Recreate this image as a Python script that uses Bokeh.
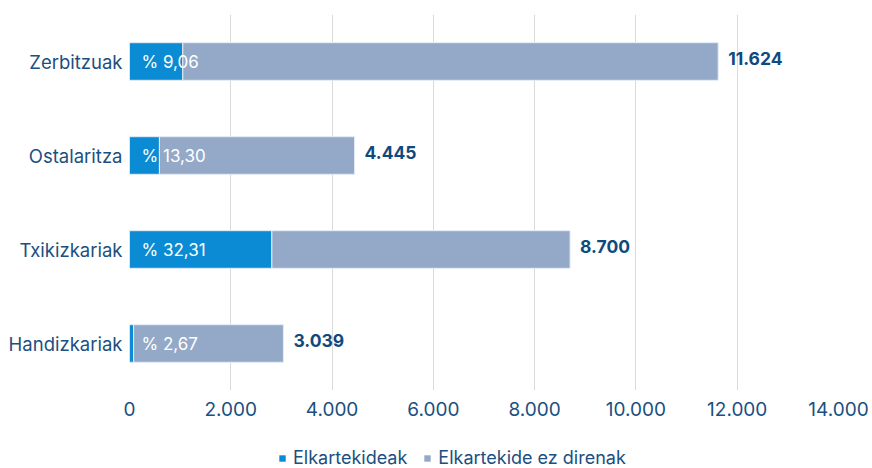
from bokeh.plotting import figure
from bokeh.layouts import column
from bokeh.models import (ColumnDataSource, FactorRange, FixedTicker, CustomJSTickFormatter,
                          Legend, LegendItem)
from bokeh.core.properties import value
from bokeh.embed import file_html
from bokeh.resources import INLINE

categories = ["Zerbitzuak", "Ostalaritza", "Txikizkariak", "Handizkariak"]
members = [1053, 591, 2811, 81]
non_members = [10571, 3854, 5889, 2958]
totals = [11624, 4445, 8700, 3039]
pct_labels = ["% 9,06", "% 13,30", "% 32,31", "% 2,67"]
total_labels = ["11.624", "4.445", "8.700", "3.039"]
x_ticks = [0, 2000, 4000, 6000, 8000, 10000, 12000, 14000]
series_names = ["Elkartekideak", "Elkartekide ez direnak"]

FONT = "Inter"
BLUE = "#0a8bd3"
GREY = "#94a9c8"
TEXT = "#1b4f80"
EDGE = "#e3ecf5"

src = ColumnDataSource(dict(cat=categories, m=members, nm=non_members, tot=totals,
                            pct=pct_labels, tl=total_labels,
                            zero=[0] * len(categories)))

p = figure(frame_width=709, frame_height=376, output_backend="svg", toolbar_location=None,
           y_range=FactorRange(factors=list(reversed(categories))),
           x_range=(0, 14000),
           min_border_left=129, min_border_right=34, min_border_top=14, min_border_bottom=54)
p.outline_line_color = None

p.hbar(y="cat", left=0, right="m", height=0.4, source=src,
       fill_color=BLUE, line_color=EDGE, line_width=1)
p.hbar(y="cat", left="m", right="tot", height=0.4, source=src,
       fill_color=GREY, line_color=EDGE, line_width=1)

p.text(x="zero", y="cat", text="pct", source=src, x_offset=12,
       text_font=value(FONT), text_font_size="17px", text_color="white",
       text_baseline="middle", text_align="left")
p.text(x="tot", y="cat", text="tl", source=src, x_offset=10, y_offset=-3,
       text_font=value(FONT), text_font_size="17.5px", text_font_style="bold",
       text_color="#0f4a7e", text_baseline="middle", text_align="left")

p.xaxis.ticker = FixedTicker(ticks=x_ticks)
p.xaxis.formatter = CustomJSTickFormatter(
    code='return tick.toString().replace(/\\B(?=(\\d{3})+(?!\\d))/g, ".");')
for ax in (p.xaxis, p.yaxis):
    ax.axis_line_color = None
    ax.major_tick_line_color = None
    ax.minor_tick_line_color = None
    ax.major_label_text_font = FONT
    ax.major_label_text_color = TEXT
p.xaxis.major_label_text_font_size = "19px"
p.yaxis.major_label_text_font_size = "18.5px"
p.xaxis.major_label_standoff = 5
p.yaxis.major_label_standoff = 1

p.ygrid.grid_line_color = None
p.xgrid.grid_line_color = "#dadada"
p.xgrid.grid_line_width = 1
p.xgrid.ticker = FixedTicker(ticks=x_ticks)

# legend strip below the chart (its frame is aligned with the chart's frame)
lf = figure(width=872, height=24, output_backend="svg", toolbar_location=None,
            x_range=(0, 1), y_range=(0, 1), x_axis_location=None, y_axis_location=None,
            min_border_left=0, min_border_right=0, min_border_top=0, min_border_bottom=0)
lf.outline_line_color = None
lf.grid.visible = False
d1 = lf.hbar(y=[0], left=[0], right=[0], height=0, fill_color=BLUE, line_color=None)
d2 = lf.hbar(y=[0], left=[0], right=[0], height=0, fill_color=GREY, line_color=None)
legend = Legend(items=[LegendItem(label=series_names[0], renderers=[d1]),
                       LegendItem(label=series_names[1], renderers=[d2])],
                orientation="horizontal", location=(149, 0),
                glyph_width=8, glyph_height=8, label_text_font=FONT,
                label_text_font_size="18px", label_text_color=TEXT,
                border_line_color=None, background_fill_alpha=0,
                spacing=16, label_standoff=7, margin=0, padding=0)
lf.add_layout(legend)

layout = column(p, lf, spacing=0)
open("out.html", "w").write(file_html(layout, INLINE))
